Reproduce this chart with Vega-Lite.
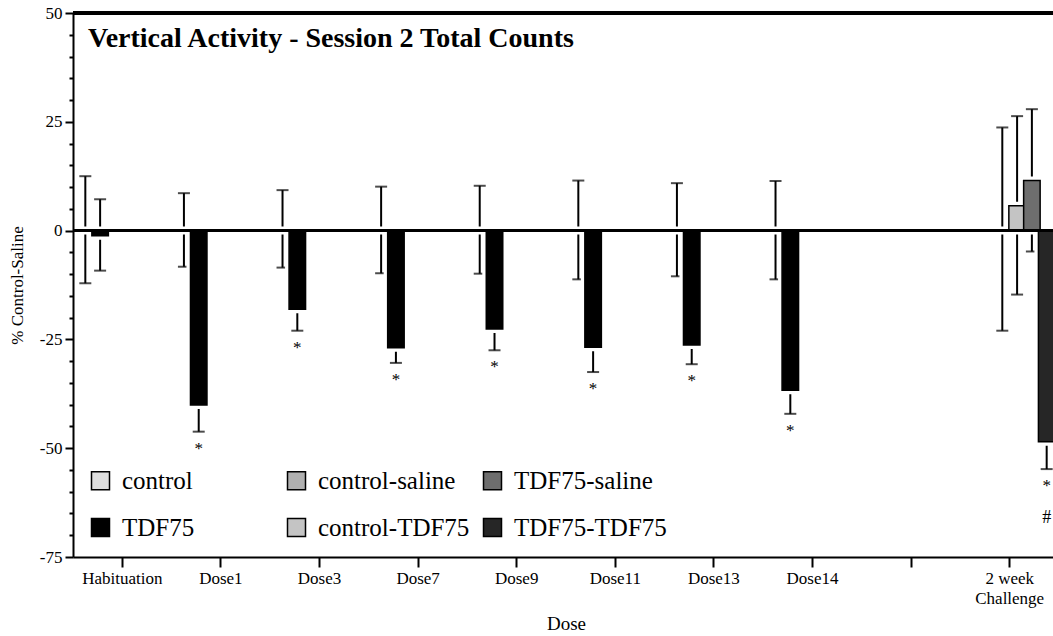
{
  "$schema": "https://vega.github.io/schema/vega-lite/v6.json",
  "width": 980,
  "height": 544,
  "autosize": {"type": "none"},
  "padding": {"left": 73, "top": 13, "right": 0, "bottom": 79},
  "background": "white",
  "config": {
    "font": "Liberation Serif",
    "view": {"stroke": null},
    "axis": {"grid": false, "domainColor": "black", "tickColor": "black", "labelColor": "black", "titleColor": "black", "labelFont": "Liberation Serif", "titleFont": "Liberation Serif", "titleFontWeight": "normal"},
    "legend": {"labelFont": "Liberation Serif"},
    "text": {"font": "Liberation Serif"}
  },
  "title": {
    "text": "Vertical Activity - Session 2 Total Counts",
    "anchor": "start",
    "frame": "group",
    "font": "Liberation Serif",
    "fontSize": 28,
    "fontWeight": "bold",
    "color": "black",
    "baseline": "alphabetic",
    "offset": 0,
    "dx": 15,
    "dy": 71
  },
  "data": {
    "values": [
      {"dose": "Habituation", "group": "control", "mean": 0, "lo": -12.1, "hi": 12.5},
      {"dose": "Habituation", "group": "TDF75", "mean": -1.2, "lo": -9.2, "hi": 7.2},
      {"dose": "Dose1", "group": "control", "mean": 0, "lo": -8.3, "hi": 8.6},
      {"dose": "Dose1", "group": "TDF75", "mean": -40.1, "lo": -46.2, "hi": -34.0, "sig": "*"},
      {"dose": "Dose3", "group": "control", "mean": 0, "lo": -8.5, "hi": 9.3},
      {"dose": "Dose3", "group": "TDF75", "mean": -18.1, "lo": -23.0, "hi": -13.2, "sig": "*"},
      {"dose": "Dose7", "group": "control", "mean": 0, "lo": -9.8, "hi": 10.1},
      {"dose": "Dose7", "group": "TDF75", "mean": -26.9, "lo": -30.4, "hi": -23.4, "sig": "*"},
      {"dose": "Dose9", "group": "control", "mean": 0, "lo": -9.9, "hi": 10.3},
      {"dose": "Dose9", "group": "TDF75", "mean": -22.6, "lo": -27.5, "hi": -17.7, "sig": "*"},
      {"dose": "Dose11", "group": "control", "mean": 0, "lo": -11.2, "hi": 11.5},
      {"dose": "Dose11", "group": "TDF75", "mean": -26.8, "lo": -32.5, "hi": -21.1, "sig": "*"},
      {"dose": "Dose13", "group": "control", "mean": 0, "lo": -10.5, "hi": 10.9},
      {"dose": "Dose13", "group": "TDF75", "mean": -26.3, "lo": -30.7, "hi": -21.9, "sig": "*"},
      {"dose": "Dose14", "group": "control", "mean": 0, "lo": -11.2, "hi": 11.4},
      {"dose": "Dose14", "group": "TDF75", "mean": -36.7, "lo": -42.1, "hi": -31.3, "sig": "*"},
      {"dose": "2 week Challenge", "group": "control-saline", "mean": 0, "lo": -23.0, "hi": 23.7},
      {"dose": "2 week Challenge", "group": "control-TDF75", "mean": 5.7, "lo": -14.7, "hi": 26.3},
      {"dose": "2 week Challenge", "group": "TDF75-saline", "mean": 11.5, "lo": -4.8, "hi": 27.9},
      {"dose": "2 week Challenge", "group": "TDF75-TDF75", "mean": -48.5, "lo": -54.8, "hi": -42.2, "sig": "*", "sig2": "#"}
    ]
  },
  "resolve": {"axis": {"y": "independent"}},
  "layer": [
    {
      "layer": [
        {
          "mark": {"type": "rule", "color": "black", "strokeWidth": 2},
          "encoding": {
            "x": {
              "field": "dose",
              "type": "nominal",
              "sort": null,
              "title": "Dose",
              "scale": {
                "domain": ["Habituation", "Dose1", "Dose3", "Dose7", "Dose9", "Dose11", "Dose13", "Dose14", " ", "2 week Challenge"],
                "range": [0, 986],
                "paddingInner": 0.1,
                "paddingOuter": 0.05
              },
              "axis": {
                "labelAngle": 0,
                "labelFont": "Liberation Serif",
                "titleFont": "Liberation Serif",
                "labelFontSize": 17,
                "labelPadding": 3,
                "labelLineHeight": 20,
                "labelOverlap": false,
                "labelExpr": "datum.value == '2 week Challenge' ? ['2 week', 'Challenge'] : datum.value",
                "tickSize": 10,
                "tickWidth": 2,
                "domainWidth": 2,
                "titleFontSize": 19,
                "titlePadding": 8
              }
            },
            "xOffset": {
              "field": "group",
              "type": "nominal",
              "scale": {"domain": ["control", "TDF75", "control-saline", "control-TDF75", "TDF75-saline", "TDF75-TDF75"]}
            },
            "y": {
              "field": "lo",
              "type": "quantitative",
              "title": "% Control-Saline",
              "scale": {"domain": [-75, 50], "nice": false, "zero": false},
              "axis": {
                "orient": "left",
                "values": [-75, -50, -25, 0, 25, 50],
                "labelExpr": "'' + datum.value",
                "labelOverlap": false,
                "labelFont": "Liberation Serif",
                "titleFont": "Liberation Serif",
                "tickSize": 8,
                "tickWidth": 2,
                "domainWidth": 2,
                "labelFontSize": 17,
                "labelPadding": 3,
                "titleFontSize": 17,
                "titlePadding": 13
              }
            },
            "y2": {"field": "hi"}
          }
        },
        {
          "mark": {"type": "tick", "color": "black", "size": 12, "thickness": 2, "orient": "horizontal"},
          "encoding": {
            "x": {"field": "dose", "type": "nominal", "sort": null},
            "xOffset": {"field": "group", "type": "nominal"},
            "y": {"field": "lo", "type": "quantitative"}
          }
        },
        {
          "mark": {"type": "tick", "color": "black", "size": 12, "thickness": 2, "orient": "horizontal"},
          "encoding": {
            "x": {"field": "dose", "type": "nominal", "sort": null},
            "xOffset": {"field": "group", "type": "nominal"},
            "y": {"field": "hi", "type": "quantitative"}
          }
        },
        {
          "mark": {"type": "bar", "fill": "white", "stroke": "white", "strokeWidth": 8, "size": 16.5},
          "encoding": {
            "x": {"field": "dose", "type": "nominal", "sort": null},
            "xOffset": {"field": "group", "type": "nominal"},
            "y": {"field": "mean", "type": "quantitative"},
            "y2": {"datum": 0}
          }
        },
        {
          "mark": {"type": "bar", "stroke": "black", "strokeWidth": 1.5, "size": 16.5},
          "encoding": {
            "x": {"field": "dose", "type": "nominal", "sort": null},
            "xOffset": {"field": "group", "type": "nominal"},
            "y": {"field": "mean", "type": "quantitative"},
            "y2": {"datum": 0},
            "fill": {
              "field": "group",
              "type": "nominal",
              "scale": {
                "domain": ["control", "control-saline", "TDF75-saline", "TDF75", "control-TDF75", "TDF75-TDF75"],
                "range": ["#dedede", "#b0b0b0", "#6e6e6e", "#000000", "#c4c4c4", "#262626"]
              },
              "legend": {
                "orient": "none",
                "legendX": 15,
                "legendY": 455,
                "title": null,
                "columns": 3,
                "direction": "horizontal",
                "gridAlign": "all",
                "columnPadding": 9,
                "rowPadding": 21,
                "padding": 0,
                "symbolType": "square",
                "symbolSize": 324,
                "symbolStrokeColor": "black",
                "symbolStrokeWidth": 1.5,
                "symbolOpacity": 1,
                "labelFont": "Liberation Serif",
                "labelFontSize": 25,
                "labelColor": "black",
                "labelOffset": 9,
                "labelLimit": 300
              }
            }
          }
        },
        {
          "mark": {"type": "rule", "color": "black", "strokeWidth": 2},
          "encoding": {"y": {"datum": 0}}
        },
        {
          "mark": {"type": "rule", "color": "black", "strokeWidth": 2.5},
          "encoding": {"y": {"datum": 50}}
        },
        {
          "transform": [{"filter": "datum.sig"}],
          "mark": {"type": "text", "font": "Liberation Serif", "fontSize": 17, "color": "black", "baseline": "top", "dy": 9},
          "encoding": {
            "x": {"field": "dose", "type": "nominal", "sort": null},
            "xOffset": {"field": "group", "type": "nominal"},
            "y": {"field": "lo", "type": "quantitative"},
            "text": {"field": "sig"}
          }
        },
        {
          "transform": [{"filter": "datum.sig2"}],
          "mark": {"type": "text", "font": "Liberation Serif", "fontSize": 18, "color": "black", "baseline": "top", "dy": 40},
          "encoding": {
            "x": {"field": "dose", "type": "nominal", "sort": null},
            "xOffset": {"field": "group", "type": "nominal"},
            "y": {"field": "lo", "type": "quantitative"},
            "text": {"field": "sig2"}
          }
        }
      ]
    },
    {
      "mark": {"type": "rule", "opacity": 0},
      "encoding": {
        "y": {
          "datum": 0,
          "type": "quantitative",
          "axis": {
            "orient": "left",
            "values": [-70, -65, -60, -55, -45, -40, -35, -30, -20, -15, -10, -5, 5, 10, 15, 20, 30, 35, 40, 45],
            "labels": false,
            "domain": false,
            "title": null,
            "tickSize": 4,
            "tickWidth": 2,
            "offset": 0
          }
        }
      }
    }
  ]
}
